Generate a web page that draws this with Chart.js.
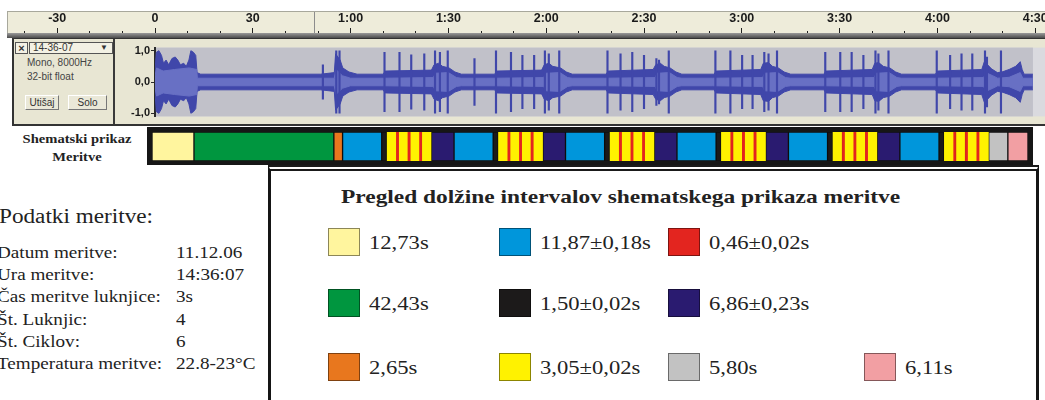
<!DOCTYPE html>
<html>
<head>
<meta charset="utf-8">
<script src="https://cdn.jsdelivr.net/npm/chart.js@4.4.1/dist/chart.umd.min.js"></script>
<style>
  html, body { margin: 0; padding: 0; background: #fff; }
  body { width: 1045px; height: 400px; position: relative; overflow: hidden; font-family: "Liberation Serif", "Times New Roman", serif; color: #222; }
  .abs { position: absolute; }
  .serif { font-family: "Liberation Serif", "Times New Roman", serif; }
  .sx { transform: scaleX(1.16); transform-origin: left center; white-space: nowrap; }
  #rulerBg { left: 7px; top: 11px; width: 1038px; height: 22px; background: #EEECDA; border-top: 1px solid #a8a89c; border-left: 1px solid #a8a89c; }
  #cursor { left: 314px; top: 12px; width: 1px; height: 21px; background: #8c8c8c; }
  #sep { left: 7px; top: 33px; width: 1038px; height: 5px; background: linear-gradient(#9a9a9a, #4c4c4c); }
  #track { left: 12px; top: 38px; width: 1033px; height: 88px; background: #E8E6D3; border-top: 1px solid #333; border-left: 2px solid #333; border-bottom: 2px solid #333; box-sizing: border-box; }
  #divider { left: 113px; top: 39px; width: 2px; height: 85px; background: #3a3a3a; }
  .ui { font-family: "Liberation Sans", sans-serif; font-size: 10px; color: #333; line-height: 1; }
  .box { border: 1px solid #555; background: #F3F1E4; box-sizing: border-box; }
  .btn { border: 1px solid; border-color: #fff #777 #777 #fff; background: #EAE8D8; box-sizing: border-box; text-align: center; line-height: 13px; }
  #shemaLabel { left: 0; width: 154px; top: 130px; text-align: center; font-weight: bold; font-size: 13px; line-height: 18px; transform: scaleX(1.12); transform-origin: 77px center; }
  #shemaCanvas { left: 147px; top: 127px; background: #161616; }
  #legendBox { left: 268px; top: 165px; width: 771px; height: 260px; box-sizing: border-box; border-left: 3px solid #151515; border-right: 3px solid #151515; border-top: 6px double #1a1a1a; }
  .sw { width: 32px; height: 28px; box-sizing: border-box; border: 1px solid rgba(0,0,0,0.45); }
  .lt { font-size: 19.5px; line-height: 1; }
</style>
</head>
<body>
<div id="rulerBg" class="abs"></div>
<canvas id="ruler" class="abs" width="1060" height="34" style="left:7px;top:0px"></canvas>
<div id="cursor" class="abs"></div>
<div id="sep" class="abs"></div>
<div id="track" class="abs"></div>
<div id="divider" class="abs"></div>

<div class="abs box ui" style="left:15px;top:42px;width:13px;height:12px;text-align:center;font-weight:bold;font-size:11px;line-height:10px">×</div>
<div class="abs box ui" style="left:29px;top:42px;width:84px;height:12px;"></div>
<div class="abs ui" style="left:33px;top:43px">14-36-07</div>
<div class="abs ui" style="left:100px;top:44px;font-size:8px">▼</div>
<div class="abs ui" style="left:27px;top:58px;color:#444">Mono, 8000Hz</div>
<div class="abs ui" style="left:27px;top:72px;color:#444">32-bit float</div>
<div class="abs ui btn" style="left:25px;top:95px;width:34px;height:15px">Utišaj</div>
<div class="abs ui btn" style="left:68px;top:95px;width:39px;height:15px">Solo</div>

<canvas id="wave" class="abs" width="930" height="84" style="left:115px;top:40px"></canvas>

<div id="shemaLabel" class="abs serif"><span>Shematski prikaz</span><br><span>Meritve</span></div>
<canvas id="shemaCanvas" class="abs" width="886" height="38"></canvas>

<div id="infoTitle" class="abs sx serif" style="left:-1px;top:206px;font-size:20px;line-height:1">Podatki meritve:</div>
<div id="info" class="abs serif" style="left:0;top:242px;font-size:16.5px;line-height:22.2px"></div>

<div id="legendBox" class="abs"></div>
<div class="abs sx serif" style="left:341px;top:187px;font-size:19.5px;font-weight:bold;line-height:1;transform:scaleX(1.2)">Pregled dolžine intervalov shematskega prikaza meritve</div>
<div id="legend"></div>

<script>
// --- waveform (Audacity track), time in seconds ---
const waveT = [0, 0.4, 1.2, 2.0, 2.6, 3.4, 4.2, 5.2, 6.2, 7.0, 7.8, 8.8, 9.6, 10.4, 11.0, 11.8, 12.5, 12.9, 14,
  50.8, 55.0, 55.4, 56.8, 57.6, 59.5, 62,
  70.0, 70.6, 84.8, 85.6, 87.0, 88.2, 90.2, 92.0, 94.0,
  104.2, 104.8, 118.6, 119.4, 120.8, 122.0, 124.4, 126.2, 128.0,
  138.4, 139.0, 152.8, 153.6, 155.0, 156.2, 158.0, 159.8, 161.6,
  171.5, 172.1, 185.8, 186.6, 188.2, 189.4, 191.2, 193.0, 195.0,
  205.2, 205.8, 220.0, 220.8, 222.0, 223.4, 225.4, 227.2, 229.0,
  239.4, 240.0, 253.6, 254.4, 255.4, 256.6, 258.4, 259.8, 260.6, 262.0, 264.0, 265.4, 266.0, 266.6, 269.3];
const waveA = [0.35, 0.95, 1.0, 0.85, 0.6, 0.7, 0.55, 0.75, 0.8, 0.7, 0.55, 0.6, 0.5, 0.7, 1.0, 0.95, 0.85, 0.3, 0.25,
  0.25, 0.3, 0.9, 0.7, 0.45, 0.32, 0.25,
  0.25, 0.35, 0.38, 0.55, 0.6, 0.5, 0.45, 0.32, 0.25,
  0.25, 0.35, 0.38, 0.55, 0.6, 0.5, 0.45, 0.32, 0.25,
  0.25, 0.35, 0.4, 0.55, 0.6, 0.5, 0.45, 0.32, 0.25,
  0.25, 0.35, 0.4, 0.6, 0.62, 0.5, 0.45, 0.32, 0.25,
  0.25, 0.35, 0.4, 0.6, 0.62, 0.5, 0.45, 0.32, 0.25,
  0.25, 0.35, 0.4, 0.65, 0.55, 0.42, 0.3, 0.32, 0.35, 0.4, 0.5, 0.65, 0.4, 0.25, 0.25];

const rmsT = [0, 0.5, 2.5, 6, 10.5, 12.8, 13.0, 55, 55.5, 57.5, 60,
  70, 85.4, 86, 90, 92.5, 94,
  104, 119.2, 120, 124.2, 126.6, 128,
  138, 153.4, 154, 157.8, 160.2, 161.6,
  171, 186.4, 187, 191, 193.4, 195,
  205, 220.6, 221.2, 225.2, 227.6, 229,
  239, 254.2, 254.8, 257, 258.5, 262, 265.4, 266.2, 269.3];
const rmsA = [0.2, 0.45, 0.35, 0.4, 0.45, 0.4, 0.12, 0.12, 0.4, 0.2, 0.12,
  0.12, 0.14, 0.28, 0.3, 0.14, 0.12,
  0.12, 0.14, 0.28, 0.3, 0.14, 0.12,
  0.12, 0.14, 0.28, 0.3, 0.14, 0.12,
  0.12, 0.14, 0.28, 0.3, 0.14, 0.12,
  0.12, 0.14, 0.28, 0.3, 0.14, 0.12,
  0.12, 0.14, 0.3, 0.2, 0.12, 0.15, 0.3, 0.12, 0.12];

const spikeT = [51.5, 55.6, 56.6,
  70.4, 75.0, 78.6, 82.6, 85.9, 87.4, 89.8, 98.0,
  104.6, 109.2, 112.7, 116.3, 119.6, 120.8, 124.0,
  138.8, 142.8, 146.4, 150.0, 153.8, 154.6, 157.6,
  171.9, 176.5, 180.1, 183.3, 186.9, 188.2, 190.8,
  205.6, 210.2, 213.7, 217.3, 221.0, 221.9, 225.0,
  239.8, 243.9, 247.4, 250.7, 254.6, 255.2, 259.5];
const spikeA = [0.55, 1.0, 1.0,
  0.95, 0.95, 0.87, 0.9, 1.0, 0.95, 1.0, 0.75,
  1.0, 0.95, 0.85, 0.85, 1.0, 0.9, 1.0,
  1.0, 0.9, 0.95, 0.85, 0.75, 0.7, 1.0,
  1.0, 1.0, 0.85, 0.85, 0.95, 0.9, 1.0,
  0.95, 0.95, 0.95, 0.85, 1.0, 0.9, 1.0,
  1.0, 0.85, 0.9, 0.9, 1.0, 0.8, 1.0];

const ampTicks = [-1, 0, 1];

// --- schematic intervals ---
const intervalLengths = [12.73, 42.43, 2.65, 11.87, 1.50, 3.05, 0.46, 6.86, 5.80, 6.11];
const intervalLabels = ['12,73s', '42,43s', '2,65s', '11,87±0,18s', '1,50±0,02s', '3,05±0,02s', '0,46±0,02s', '6,86±0,23s', '5,80s', '6,11s'];
const intervalColors = ['#FFF59E', '#00963F', '#E8771E', '#0096DB', '#1C1A1A', '#FFF200', '#E3251F', '#2A1B70', '#C2C2C2', '#F29FA3'];
const schemeSequence = [0, 1, 2, 3,
  4, 5, 6, 5, 6, 5, 6, 5, 7, 3,
  4, 5, 6, 5, 6, 5, 6, 5, 7, 3,
  4, 5, 6, 5, 6, 5, 6, 5, 7, 3,
  4, 5, 6, 5, 6, 5, 6, 5, 7, 3,
  4, 5, 6, 5, 6, 5, 6, 5, 7, 3,
  4, 5, 6, 5, 6, 5, 6, 5, 8, 9];

// --- measurement info ---
const infoLabels = ['Datum meritve:', 'Ura meritve:', 'Čas meritve luknjice:', 'Št. Luknjic:', 'Št. Ciklov:', 'Temperatura meritve:'];
const infoValues = ['11.12.06', '14:36:07', '3s', '4', '6', '22.8-23°C'];

// layout
const pxPerSec = 3.26;
const zeroX = 155;
const waveColor = '#4047AA';
const rmsColor = '#6870C4';
const legendGrid = [[0, 3, 6], [1, 4, 7], [2, 5, 8, 9]];
const legendColX = [328, 499, 668, 864];
const legendRowY = [228, 289, 353];

function fmtTime(v) {
  if (Math.abs(v) < 60) return String(v);
  const m = Math.floor(v / 60);
  const s = v % 60;
  return m + ':' + String(s).padStart(2, '0');
}

// ruler
const rulerMin = (7 - zeroX) / pxPerSec;
const rulerMax = (7 + 1060 - zeroX) / pxPerSec;
new Chart(document.getElementById('ruler'), {
  type: 'scatter',
  data: { datasets: [{ data: [] }] },
  options: {
    responsive: false, animation: false, events: [],
    layout: { padding: { top: 12, left: 0, right: 0, bottom: 0 } },
    plugins: { legend: { display: false }, tooltip: { enabled: false } },
    scales: {
      x: {
        type: 'linear', position: 'top', min: rulerMin, max: rulerMax, offset: false,
        afterFit: (s) => { s.height = 21; },
        border: { display: false },
        grid: {
          drawOnChartArea: false, tickLength: 5, tickColor: '#222', tickWidth: 1,
          tickBorderDash: (ctx) => (ctx.tick && ctx.tick.value % 30 !== 0) ? [0, 3, 2, 10] : []
        },
        ticks: {
          stepSize: 10, includeBounds: false, autoSkip: false, maxRotation: 0, padding: 2,
          color: '#1a1a1a', font: { family: 'Liberation Sans', size: 12.5, weight: 'bold' },
          callback: (v) => v % 30 === 0 ? fmtTime(v) : ''
        }
      },
      y: { display: false }
    }
  }
});

// waveform
const waveEnd = waveT[waveT.length - 1];
const waveBg = {
  id: 'waveBg',
  beforeDraw(chart) {
    const { ctx, chartArea: a, scales: { x } } = chart;
    ctx.save();
    ctx.fillStyle = '#DADADF';
    ctx.fillRect(a.left, a.top, a.right - a.left, a.bottom - a.top);
    const x0 = x.getPixelForValue(0), x1 = x.getPixelForValue(waveEnd);
    ctx.fillStyle = '#C1C1C9';
    ctx.fillRect(x0, a.top, x1 - x0, a.bottom - a.top);
    ctx.restore();
  }
};

const env = (ts, as, sign) => ts.map((t, i) => ({ x: t, y: sign * as[i] }));

new Chart(document.getElementById('wave'), {
  type: 'line',
  data: {
    datasets: [
      { type: 'bar', data: spikeT.map((t, i) => ({ x: t, y: [-spikeA[i], spikeA[i]] })),
        backgroundColor: waveColor, barThickness: 1.5, borderWidth: 0, grouped: false, order: 0 },
      { data: env(rmsT, rmsA, 1), backgroundColor: rmsColor, borderColor: rmsColor, fill: 'origin', order: 1 },
      { data: env(rmsT, rmsA, -1), backgroundColor: rmsColor, borderColor: rmsColor, fill: 'origin', order: 1 },
      { data: env(waveT, waveA, 1), backgroundColor: waveColor, borderColor: waveColor, fill: 'origin', order: 2 },
      { data: env(waveT, waveA, -1), backgroundColor: waveColor, borderColor: waveColor, fill: 'origin', order: 2 }
    ]
  },
  options: {
    responsive: false, animation: false, events: [],
    layout: { padding: 0 },
    plugins: { legend: { display: false }, tooltip: { enabled: false } },
    elements: { point: { radius: 0 }, line: { borderWidth: 1, tension: 0 } },
    scales: {
      x: { type: 'linear', min: 0, max: (1045 - zeroX) / pxPerSec, offset: false, display: false, grid: { offset: false } },
      y: {
        min: -1.1, max: 1.1,
        afterFit: (s) => { s.width = 40; },
        afterBuildTicks: (s) => { s.ticks = ampTicks.map(v => ({ value: v })); },
        border: { display: true, color: '#2a2a2a', width: 2 },
        grid: { drawOnChartArea: false, tickLength: 4, color: '#2a2a2a' },
        ticks: {
          padding: 1, color: '#1a1a1a',
          font: { family: 'Liberation Sans', size: 11, weight: 'bold' },
          callback: (v) => v.toFixed(1).replace('.', ',')
        }
      }
    }
  },
  plugins: [waveBg]
});

// schematic bar (red stripes widened with red edges on the neighbouring yellow blocks)
const shemaTotal = schemeSequence.reduce((s, k) => s + intervalLengths[k], 0);
const shemaSets = schemeSequence.map((k, i) => {
  const prev = schemeSequence[i - 1], next = schemeSequence[i + 1];
  const set = {
    data: [intervalLengths[k]],
    backgroundColor: intervalColors[k],
    borderColor: 'rgba(0,0,0,0.35)',
    borderWidth: 1,
    borderSkipped: false,
    stack: 'shema'
  };
  if (k === 5) {
    set.borderColor = intervalColors[6];
    set.borderWidth = { left: prev === 6 ? 1 : 0, right: next === 6 ? 1 : 0, top: 0, bottom: 0 };
  }
  if (k === 6) set.borderWidth = 0;
  return set;
});
new Chart(document.getElementById('shemaCanvas'), {
  type: 'bar',
  data: { labels: ['Meritve'], datasets: shemaSets },
  options: {
    indexAxis: 'y', responsive: false, animation: false, events: [],
    layout: { padding: { left: 5, right: 5, top: 5, bottom: 4 } },
    datasets: { bar: { barPercentage: 1, categoryPercentage: 1 } },
    plugins: { legend: { display: false }, tooltip: { enabled: false } },
    scales: {
      x: { stacked: true, display: false, min: 0, max: shemaTotal },
      y: { stacked: true, display: false }
    }
  }
});

// info lines
const info = document.getElementById('info');
infoLabels.forEach((lab, i) => {
  const row = document.createElement('div');
  row.style.position = 'relative';
  row.style.height = '22.2px';
  row.innerHTML = '<span class="abs sx serif" style="left:-3px;top:0">' + lab + '</span>' +
    '<span class="abs sx serif" style="left:176px;top:0">' + infoValues[i] + '</span>';
  info.appendChild(row);
});

// legend of interval lengths
const legend = document.getElementById('legend');
legendGrid.forEach((row, r) => {
  row.forEach((k, c) => {
    const sw = document.createElement('div');
    sw.className = 'abs sw';
    sw.style.left = legendColX[c] + 'px';
    sw.style.top = legendRowY[r] + 'px';
    sw.style.background = intervalColors[k];
    legend.appendChild(sw);
    const t = document.createElement('div');
    t.className = 'abs sx lt serif';
    t.style.left = (legendColX[c] + 41) + 'px';
    t.style.top = (legendRowY[r] + 5) + 'px';
    t.textContent = intervalLabels[k];
    legend.appendChild(t);
  });
});
</script>
</body>
</html>
